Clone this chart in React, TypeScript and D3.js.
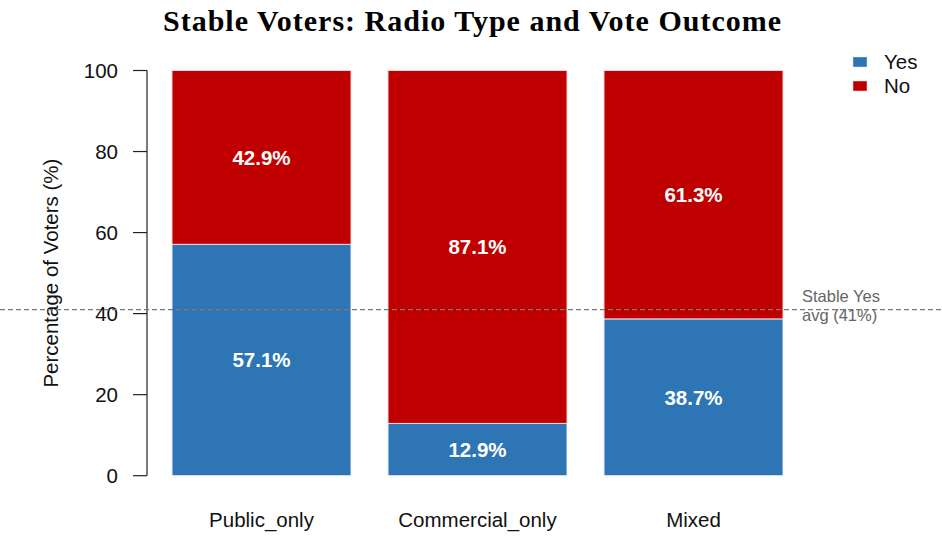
import React from "react";
import * as d3 from "d3";

const categories = ["Public_only", "Commercial_only", "Mixed"];
const yesValues = [57.1, 12.9, 38.7];
const noValues = [42.9, 87.1, 61.3];
const seriesNames = ["Yes", "No"];
const seriesColors = ["#2E75B6", "#C00000"];
const yTicks = [0, 20, 40, 60, 80, 100];
const avgYes = 41;

const W = 942;
const H = 539;

export default function App() {
  const y = d3.scaleLinear().domain([0, 100]).range([475.7, 70.5]);
  const x = d3.scaleBand().domain(categories).range([136, 819]).paddingInner(37 / 216).paddingOuter(36 / 216);
  const bw = x.bandwidth();
  const sans = "'Liberation Sans', Arial, sans-serif";
  return (
    <svg width={W} height={H} style={{ position: "absolute", left: 0, top: 0, background: "#fff" }}>
      <text x={472} y={31} textAnchor="middle" fontFamily="'Liberation Serif', serif" fontWeight="bold" fontSize={30} textLength={618} lengthAdjust="spacing">
        Stable Voters: Radio Type and Vote Outcome
      </text>
      {categories.map((c, i) => {
        const x0 = x(c)!;
        const yes = yesValues[i];
        const no = noValues[i];
        return (
          <g key={c}>
            <rect x={x0} y={y(yes)} width={bw} height={y(0) - y(yes)} fill={seriesColors[0]} stroke="#E8EEF6" strokeWidth={1} />
            <rect x={x0} y={y(yes + no)} width={bw} height={y(yes) - y(yes + no)} fill={seriesColors[1]} stroke="#F0D8D8" strokeWidth={1} />
            <text x={x0 + bw / 2} y={y(yes / 2)} dy="0.36em" textAnchor="middle" fill="#fff" fontFamily={sans} fontWeight="bold" fontSize={20.5}>
              {yes.toFixed(1)}%
            </text>
            <text x={x0 + bw / 2} y={y(yes + no / 2)} dy="0.36em" textAnchor="middle" fill="#fff" fontFamily={sans} fontWeight="bold" fontSize={20.5}>
              {no.toFixed(1)}%
            </text>
            <text x={x0 + bw / 2} y={527} textAnchor="middle" fill="#111" fontFamily={sans} fontSize={20.5}>
              {c}
            </text>
          </g>
        );
      })}
      <line x1={147} x2={147} y1={y(0)} y2={y(100)} stroke="#222" strokeWidth={1.2} />
      {yTicks.map((t) => (
        <g key={t}>
          <line x1={133} x2={147} y1={y(t)} y2={y(t)} stroke="#222" strokeWidth={1.2} />
          <text x={118} y={y(t)} dy="0.36em" textAnchor="end" fill="#111" fontFamily={sans} fontSize={20.5}>
            {t}
          </text>
        </g>
      ))}
      <text transform={`translate(58,${y(50)}) rotate(-90)`} textAnchor="middle" fill="#111" fontFamily={sans} fontSize={20.5}>
        Percentage of Voters (%)
      </text>
      <line x1={0} x2={W} y1={y(avgYes)} y2={y(avgYes)} stroke="#7a7a7a" strokeWidth={1.3} strokeDasharray="5,3" />
      <text x={802} y={302} fill="#666" fontFamily={sans} fontSize={16.5}>Stable Yes</text>
      <text x={802} y={321} fill="#666" fontFamily={sans} fontSize={16.5}>avg (41%)</text>
      {seriesNames.map((s, i) => (
        <g key={s}>
          <rect x={853} y={57 + i * 24} width={14} height={10} fill={seriesColors[i]} stroke="#ddd" strokeWidth={0.5} />
          <text x={884} y={62 + i * 24} dy="0.36em" fill="#111" fontFamily={sans} fontSize={20.5}>{s}</text>
        </g>
      ))}
    </svg>
  );
}
